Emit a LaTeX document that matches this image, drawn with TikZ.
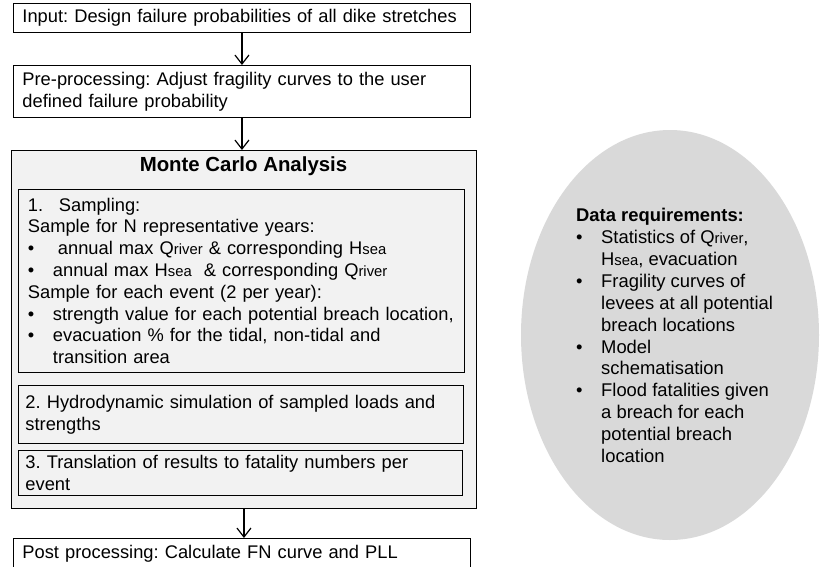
\documentclass[tikz,border=0pt]{standalone}
\usepackage{fontspec}
\setmainfont{Liberation Sans}
\usetikzlibrary{arrows.meta}
\usetikzlibrary{shapes.geometric}
\frenchspacing
\definecolor{boxgray}{HTML}{F2F2F2}
\definecolor{ovalgray}{HTML}{D9D9D9}
\newcommand{\bodytxt}{\fontsize{18.3}{21.8}\selectfont}
\newcommand{\lowtxt}[1]{{\fontsize{14.8}{14.8}\selectfont #1}}
\newcommand{\bul}{\makebox[25pt][l]{\textbullet}}
\newcommand{\oneline}[1]{\mbox{#1}}

\begin{document}
\begin{tikzpicture}[x=1pt, y=-1pt,
    flowbox/.style={draw=black, line width=0.9pt, fill=white, anchor=north west,
        align=left, inner xsep=9pt, inner ysep=0pt, font=\bodytxt},
    subbox/.style={flowbox, fill=boxgray, inner xsep=7pt},
    flowarrow/.style={line width=1.2pt, -{Straight Barb[length=9pt,width=14pt]}}]
    \useasboundingbox (0,0) rectangle (820,566);
    \clip (0,0) rectangle (820,566);

    \node[flowbox, text width=439pt, minimum height=29pt] (input) at (13,3)
        {\oneline{Input: Design failure probabilities of all dike stretches}};
    \node[flowbox, text width=439pt, minimum height=52pt] (prep) at (13,65)
        {\oneline{Pre-processing: Adjust fragility curves to the user}\\\oneline{defined failure probability}};

    % Monte Carlo block
    \node[draw=black, line width=0.9pt, fill=boxgray, anchor=north west,
        minimum width=465pt, minimum height=358pt, inner sep=0pt] (mc) at (11,150) {};
    \node[font=\bfseries\fontsize{20.4}{24}\selectfont, anchor=base] (mctitle) at (243.5,171)
        {Monte Carlo Analysis};

    \node[subbox, inner xsep=9.5pt, text width=427pt, minimum height=183pt] (sampling) at (18,189)
        {\oneline{\makebox[31pt][l]{1.}Sampling:}\\
         \oneline{Sample for N representative years:}\\
         \oneline{\makebox[30pt][l]{\textbullet}annual max Q\lowtxt{river} \& corresponding H\lowtxt{sea}}\\
         \oneline{\bul annual max H\lowtxt{sea}\ \ \& corresponding Q\lowtxt{river}}\\
         \oneline{Sample for each event (2 per year):}\\
         \oneline{\bul strength value for each potential breach location,}\\
         \oneline{\bul evacuation \% for the tidal, non-tidal and}\\
         \oneline{\hspace*{25pt}transition area}};
    \node[subbox, text width=431pt, minimum height=58pt] (hydro) at (18,385)
        {\oneline{2. Hydrodynamic simulation of sampled loads and}\\\oneline{strengths}};
    \node[subbox, text width=430pt, minimum height=45pt] (fatal) at (18,450)
        {\oneline{3. Translation of results to fatality numbers per}\\\oneline{event}};

    \node[flowbox, text width=439pt, minimum height=30pt] (post) at (13,538)
        {\oneline{Post processing: Calculate FN curve and PLL}};

    \draw[flowarrow] (input.south) -- (prep.north);
    \draw[flowarrow] (prep.south) -- (prep.south |- mc.north);
    \draw[flowarrow] (mc.south) -- (mc.south |- post.north);

    % data requirements
    \node[ellipse, fill=ovalgray, minimum width=298pt, minimum height=410pt, inner sep=0pt]
        (datareq) at (670,335) {};
    \node[anchor=west, align=left, inner sep=0pt, font=\fontsize{18.4}{21.9}\selectfont]
        (datalist) at (576,335.5)
        {\textbf{Data requirements:}\\
         \bul Statistics of Q\lowtxt{river},\\
         \hspace*{25pt}H\lowtxt{sea}, evacuation\\
         \bul Fragility curves of\\
         \hspace*{25pt}levees at all potential\\
         \hspace*{25pt}breach locations\\
         \bul Model\\
         \hspace*{25pt}schematisation\\
         \bul Flood fatalities given\\
         \hspace*{25pt}a breach for each\\
         \hspace*{25pt}potential breach\\
         \hspace*{25pt}location};
\end{tikzpicture}
\end{document}
